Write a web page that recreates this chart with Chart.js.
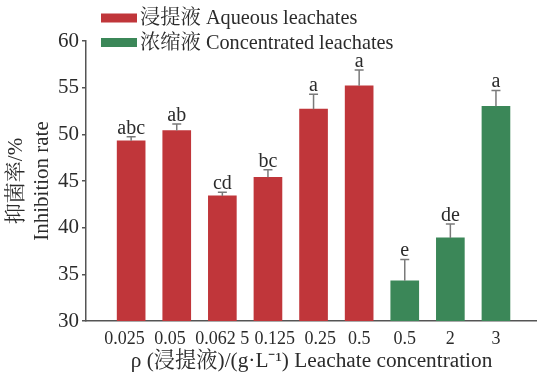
<!DOCTYPE html>
<html>
<head>
<meta charset="utf-8">
<script src="https://cdn.jsdelivr.net/npm/chart.js@4/dist/chart.umd.min.js"></script>
<style>
  html, body { margin: 0; padding: 0; background: #fff; }
  #wrap { width: 537px; height: 374px; }
</style>
</head>
<body>
<div id="wrap"><canvas id="c" width="537" height="374"></canvas></div>
<script>
// Concentration tick labels (g/L); padding spaces keep crowded labels apart
const tickLabels = ['0.025   ', '0.05   ', '0.062 5', '   0.125', '   0.25', '0.5', '0.5', '2', '3'];

// Aqueous leachates: inhibition rate (%) and standard error
const aqueousPos    = [0, 1, 2, 3, 4, 5];
const aqueousValues = [49.3, 50.4, 43.4, 45.4, 52.7, 55.2];
const aqueousErrors = [0.45, 0.7, 0.4, 0.8, 1.6, 1.7];
const aqueousLetters = ['abc', 'ab', 'cd', 'bc', 'a', 'a'];

// Concentrated leachates
const concPos    = [6, 7, 8];
const concValues = [34.3, 38.9, 53.0];
const concErrors = [2.3, 1.5, 1.7];
const concLetters = ['e', 'de', 'a'];

const serif = '"Liberation Serif", "Times New Roman", "Noto Serif CJK SC", "Noto Sans CJK SC", serif';
const textColor = '#2b2b2b';
const axisColor = '#555';

const toPoints = (xs, ys) => xs.map((x, i) => ({ x: x, y: ys[i] }));

// Error bars (upper whisker with cap) and significance letters
const errorBarPlugin = {
  id: 'errorBars',
  afterDatasetsDraw(chart) {
    const { ctx, scales: { x, y } } = chart;
    chart.data.datasets.forEach((ds) => {
      ds.data.forEach((pt, i) => {
        const px = x.getPixelForValue(pt.x);
        const top = y.getPixelForValue(pt.y);
        const hi = y.getPixelForValue(pt.y + ds.errors[i]);
        ctx.save();
        ctx.strokeStyle = '#7a7a7a';
        ctx.lineWidth = 1.5;
        ctx.beginPath();
        ctx.moveTo(px, top);
        ctx.lineTo(px, hi);
        ctx.moveTo(px - 4.5, hi);
        ctx.lineTo(px + 4.5, hi);
        ctx.stroke();
        ctx.fillStyle = textColor;
        ctx.font = '20px ' + serif;
        ctx.textAlign = 'center';
        ctx.textBaseline = 'alphabetic';
        ctx.fillText(ds.letters[i], px, hi - 3);
        ctx.restore();
      });
    });
  }
};

// Two-row legend at the top left
const legendPlugin = {
  id: 'stackedLegend',
  afterDraw(chart) {
    const { ctx } = chart;
    chart.data.datasets.forEach((ds, i) => {
      const cy = 18 + i * 24.5;
      ctx.save();
      ctx.fillStyle = ds.backgroundColor;
      ctx.fillRect(101, cy - 4.5, 36, 9);
      ctx.fillStyle = textColor;
      ctx.font = '20.3px ' + serif;
      ctx.textAlign = 'left';
      ctx.textBaseline = 'middle';
      ctx.fillText(ds.label, 140, cy + 1);
      ctx.restore();
    });
  }
};

new Chart(document.getElementById('c'), {
  type: 'bar',
  data: {
    datasets: [
      {
        label: '浸提液 Aqueous leachates',
        data: toPoints(aqueousPos, aqueousValues),
        errors: aqueousErrors,
        letters: aqueousLetters,
        backgroundColor: '#c0363a',
        barThickness: 28,
        grouped: false
      },
      {
        label: '浓缩液 Concentrated leachates',
        data: toPoints(concPos, concValues),
        errors: concErrors,
        letters: concLetters,
        backgroundColor: '#3b8758',
        barThickness: 28,
        grouped: false
      }
    ]
  },
  options: {
    responsive: false,
    animation: false,
    devicePixelRatio: 1,
    layout: { padding: { top: 41, right: 0, left: 0, bottom: 0 } },
    plugins: { legend: { display: false }, tooltip: { enabled: false } },
    scales: {
      x: {
        type: 'linear',
        offset: false,
        min: -0.99,
        max: 8.9,
        afterBuildTicks(scale) {
          scale.ticks = tickLabels.map((_, i) => ({ value: i }));
        },
        afterFit(scale) { scale.height = 53; },
        grid: { display: false, drawTicks: false, offset: false },
        border: { display: true, color: axisColor, width: 1.5 },
        ticks: {
          autoSkip: false,
          maxRotation: 0,
          padding: 7,
          color: textColor,
          font: { family: serif, size: 18 },
          callback: (v) => tickLabels[v]
        },
        title: {
          display: true,
          text: 'ρ (浸提液)/(g·L⁻¹) Leachate concentration',
          color: textColor,
          font: { family: serif, size: 21.3 },
          padding: { top: 2, bottom: 0 }
        }
      },
      y: {
        min: 30,
        max: 60,
        afterFit(scale) { scale.width = 86; },
        ticks: {
          stepSize: 5,
          padding: 3,
          color: textColor,
          font: { family: serif, size: 21 }
        },
        grid: { drawOnChartArea: false, drawTicks: true, tickLength: 4, color: axisColor, lineWidth: 1.5 },
        border: { display: true, color: axisColor, width: 1.5 },
        title: {
          display: true,
          text: ['抑菌率/%', 'Inhibition rate'],
          color: textColor,
          font: { family: serif, size: 21, lineHeight: 1.22 },
          padding: { top: 4, bottom: 0 }
        }
      }
    }
  },
  plugins: [errorBarPlugin, legendPlugin]
});
</script>
</body>
</html>
